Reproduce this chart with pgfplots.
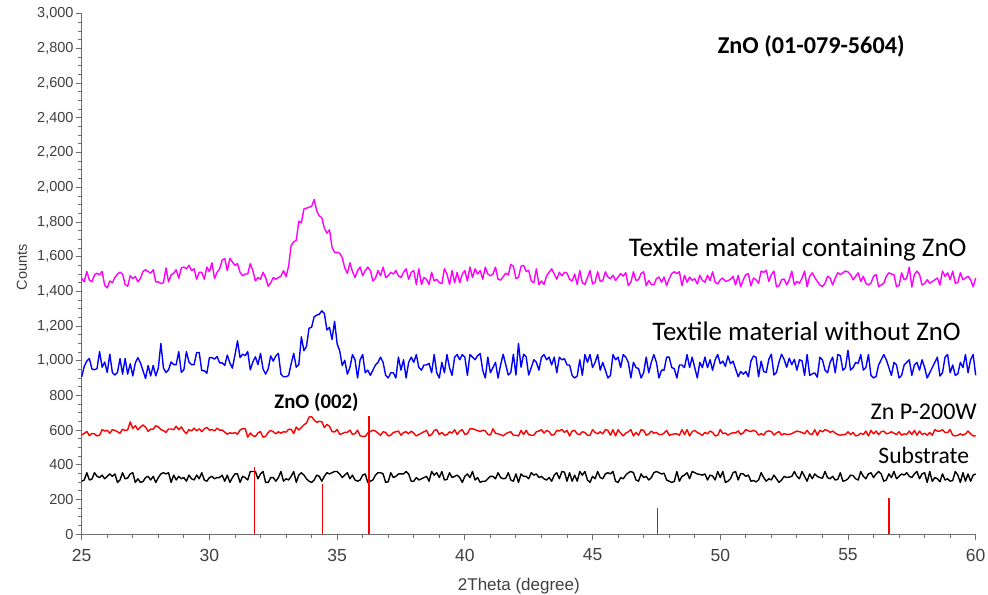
\documentclass[border=0pt]{standalone}
\usepackage{pgfplots}
\usepackage{pgfplotstable}
\pgfplotsset{compat=1.18}
\usepackage{fontspec}
\setmainfont{Liberation Sans}
\newfontfamily\carl{Carlito}
\definecolor{axisgray}{RGB}{110,110,110}
\definecolor{labgray}{RGB}{64,64,64}
\definecolor{magen}{RGB}{255,0,255}
\definecolor{blu}{RGB}{0,0,255}
\definecolor{rd}{RGB}{255,0,0}

\pgfplotstableread{
x s r b m
25.0 306 573 908 1475
25.1 313 581 968 1455
25.2 355 593 998 1515
25.3 313 569 1013 1465
25.4 318 581 953 1455
25.5 355 579 948 1495
25.6 334 567 955 1505
25.7 327 571 1053 1495
25.8 341 603 963 1515
25.9 320 595 993 1435
26.0 334 599 933 1420
26.1 348 583 1038 1460
26.2 334 603 933 1450
26.3 348 599 918 1480
26.4 299 591 933 1500
26.5 313 582 1013 1510
26.6 355 606 923 1500
26.7 320 598 1013 1440
26.8 324 602 923 1430
26.9 348 648 983 1490
27.0 355 610 913 1475
27.1 299 626 988 1485
27.2 320 602 1018 1455
27.3 299 618 988 1475
27.4 304 630 943 1515
27.5 327 618 898 1525
27.6 334 594 973 1515
27.7 313 606 913 1505
27.8 334 606 973 1525
27.9 299 626 913 1455
28.0 327 619 958 1455
28.1 348 603 1100 1445
28.2 355 598 958 1450
28.3 348 587 933 1535
28.4 355 607 948 1455
28.5 299 607 993 1495
28.6 341 603 978 1505
28.7 313 623 978 1525
28.8 334 603 1053 1475
28.9 320 619 933 1535
29.0 327 596 948 1540
29.1 306 580 1053 1530
29.2 341 604 993 1550
29.3 320 596 978 1520
29.4 313 612 978 1530
29.5 341 596 1048 1470
29.6 320 608 1048 1510
29.7 355 592 943 1510
29.8 313 608 943 1470
29.9 306 616 928 1540
30.0 327 600 1018 1515
30.1 334 604 1018 1565
30.2 320 596 1010 1475
30.3 327 612 1025 1510
30.4 327 600 988 1530
30.5 341 601 988 1580
30.6 306 589 973 1590
30.7 341 577 1033 1520
30.8 299 585 988 1590
30.9 327 581 958 1570
31.0 348 587 1033 1550
31.1 348 577 1115 1560
31.2 299 601 1018 1510
31.3 334 609 1038 1490
31.4 327 609 1030 1500
31.5 313 560 1053 1500
31.6 362 584 948 1560
31.7 362 568 993 1520
31.8 362 564 1023 1460
31.9 320 584 978 1480
32.0 348 592 1043 1470
32.1 362 560 953 1510
32.2 299 564 923 1480
32.3 299 587 953 1430
32.4 327 599 1028 1450
32.5 327 591 998 1480
32.6 306 579 1028 1470
32.7 327 591 1043 1480
32.8 362 583 923 1488
32.9 306 591 908 1520
33.0 320 589 908 1485
33.1 313 605 915 1545
33.2 334 605 983 1665
33.3 362 581 1043 1685
33.4 299 618 963 1695
33.5 341 601 978 1805
33.6 355 616 1138 1795
33.7 341 631 1058 1875
33.8 320 641 1083 1880
33.9 306 676 1188 1885
34.0 299 678 1193 1890
34.1 313 659 1253 1930
34.2 341 645 1263 1865
34.3 334 651 1268 1835
34.4 306 649 1288 1825
34.5 334 615 1273 1765
34.6 355 633 1178 1735
34.7 348 623 1193 1755
34.8 355 592 1123 1655
34.9 362 590 1228 1625
35.0 362 604 1098 1625
35.1 348 576 1058 1620
35.2 327 580 973 1595
35.3 341 588 1003 1535
35.4 355 588 923 1505
35.5 320 600 961 1565
35.6 341 576 1036 1515
35.7 313 580 1006 1480
35.8 306 600 901 1520
35.9 313 568 1006 1540
36.0 341 564 1036 1490
36.1 348 564 931 1520
36.2 299 584 946 1540
36.3 306 592 916 1520
36.4 313 600 946 1460
36.5 341 595 976 1475
36.6 355 583 991 1520
36.7 355 571 1021 1490
36.8 348 591 991 1540
36.9 299 587 916 1480
37.0 303 567 901 1490
37.1 355 571 931 1510
37.2 327 587 931 1500
37.3 334 591 901 1520
37.4 348 595 1021 1490
37.5 348 571 946 1480
37.6 348 587 1006 1510
37.7 362 591 901 1530
37.8 348 579 991 1470
37.9 306 595 1021 1510
38.0 306 583 991 1520
38.1 327 567 1036 1440
38.2 313 575 961 1530
38.3 320 583 946 1440
38.4 327 591 976 1480
38.5 334 599 976 1470
38.6 306 567 985 1440
38.7 362 575 931 1510
38.8 341 599 1036 1460
38.9 355 603 931 1470
39.0 327 575 901 1450
39.1 362 587 991 1445
39.2 313 571 931 1530
39.3 316 574 1036 1500
39.4 355 591 961 1440
39.5 327 583 916 1520
39.6 334 603 1021 1450
39.7 341 575 1036 1510
39.8 327 595 1006 1450
39.9 299 603 1036 1500
40.0 334 576 1021 1520
40.1 348 580 916 1460
40.2 327 608 1036 1540
40.3 362 608 1021 1480
40.4 313 603 1006 1530
40.5 327 598 1030 1500
40.6 299 592 1042 1520
40.7 306 600 946 1470
40.8 306 596 901 1540
40.9 320 576 1021 1500
41.0 334 572 931 1490
41.1 334 608 961 1500
41.2 320 583 991 1540
41.3 355 579 901 1470
41.4 327 575 976 1465
41.5 320 567 1038 1485
41.6 323 579 978 1505
41.7 355 587 918 1495
41.8 313 591 933 1555
41.9 306 571 1038 1545
42.0 348 571 918 1475
42.1 299 567 1100 1480
42.2 348 599 963 1545
42.3 334 575 1038 1550
42.4 334 599 1023 1515
42.5 320 575 918 1520
42.6 355 571 961 1460
42.7 341 571 1006 1450
42.8 348 591 991 1530
42.9 327 595 946 1440
43.0 334 603 1021 1460
43.1 320 583 1036 1440
43.2 313 599 1006 1490
43.3 327 591 1021 1510
43.4 306 571 976 1530
43.5 341 575 1021 1500
43.6 355 599 931 1470
43.7 320 595 1021 1510
43.8 362 605 1006 1490
43.9 358 587 1012 1510
44.0 306 599 976 1505
44.1 355 567 976 1470
44.2 306 595 916 1460
44.3 341 599 901 1500
44.4 306 579 912 1440
44.5 362 575 1006 1520
44.6 341 591 916 1450
44.7 362 587 1036 1440
44.8 313 571 991 1480
44.9 299 571 1036 1520
45.0 334 603 961 1443
45.1 320 587 991 1453
45.2 362 579 1036 1513
45.3 327 591 946 1458
45.4 320 579 991 1462
45.5 348 603 946 1513
45.6 355 599 901 1483
45.7 348 571 916 1473
45.8 362 603 1036 1493
45.9 306 567 1006 1463
46.0 299 603 1021 1483
46.1 327 583 961 1503
46.2 320 567 1036 1488
46.3 341 583 1021 1508
46.4 355 591 991 1433
46.5 362 603 901 1453
46.6 355 567 991 1513
46.7 313 587 961 1463
46.8 306 571 955 1468
46.9 348 603 901 1503
47.0 327 599 931 1513
47.1 334 571 1021 1433
47.2 313 579 931 1463
47.3 327 595 991 1440
47.4 355 583 1036 1438
47.5 362 587 991 1473
47.6 355 575 901 1483
47.7 348 575 946 1453
47.8 352 583 946 1483
47.9 313 599 1021 1433
48.0 306 571 1021 1473
48.1 299 575 961 1503
48.2 305 579 955 1513
48.3 362 579 901 1503
48.4 306 571 976 1513
48.5 334 603 976 1433
48.6 341 575 961 1493
48.7 355 603 1036 1453
48.8 320 567 961 1483
48.9 362 591 1021 1463
49.0 355 599 961 1473
49.1 348 587 901 1443
49.2 345 579 991 1493
49.3 341 571 961 1463
49.4 348 587 1021 1453
49.5 313 579 961 1493
49.6 341 595 1006 1463
49.7 336 587 946 1513
49.8 313 567 1006 1453
49.9 362 571 1036 1443
50.0 327 604 983 1467
50.1 362 580 998 1477
50.2 299 584 968 1457
50.3 306 572 1028 1462
50.4 320 580 983 1470
50.5 355 586 998 1487
50.6 362 584 953 1437
50.7 313 596 908 1492
50.8 350 576 938 1427
50.9 348 584 923 1467
51.0 334 604 938 1497
51.1 341 596 908 1502
51.2 306 592 998 1432
51.3 310 600 1028 1477
51.4 302 592 1020 1467
51.5 313 572 908 1447
51.6 355 580 998 1517
51.7 327 572 938 1510
51.8 306 592 933 1522
51.9 320 596 1008 1457
52.0 313 592 1038 1497
52.1 341 572 918 1517
52.2 320 584 933 1427
52.3 299 592 993 1432
52.4 313 572 1038 1467
52.5 334 580 1008 1472
52.6 327 576 963 1437
52.7 330 576 1015 1467
52.8 334 580 978 1517
52.9 362 588 1008 1437
53.0 334 595 946 1457
53.1 320 591 1006 1447
53.2 362 587 1000 1477
53.3 334 579 916 1517
53.4 306 599 1036 1427
53.5 348 579 916 1487
53.6 320 575 925 1507
53.7 348 603 930 1480
53.8 334 571 905 1457
53.9 327 599 1021 1437
54.0 323 591 1006 1427
54.1 362 603 946 1447
54.2 327 598 931 1487
54.3 320 587 991 1477
54.4 334 595 1021 1437
54.5 313 583 931 1477
54.6 317 575 1036 1507
54.7 355 571 1030 1497
54.8 306 574 946 1507
54.9 310 575 961 1517
55.0 320 591 1060 1512
55.1 341 575 946 1497
55.2 338 587 961 1467
55.3 320 567 991 1487
55.4 313 571 985 1507
55.5 362 583 1036 1457
55.6 334 575 946 1487
55.7 320 595 961 1447
55.8 348 567 1036 1437
55.9 355 599 916 1447
56.0 327 579 901 1487
56.1 348 595 910 1497
56.2 362 575 976 1427
56.3 348 591 1006 1437
56.4 306 595 1036 1447
56.5 313 579 1006 1487
56.6 348 583 961 1507
56.7 327 591 916 1500
56.8 362 583 991 1497
56.9 320 575 976 1427
57.0 334 591 901 1435
57.1 348 571 916 1507
57.2 341 579 976 1467
57.3 355 575 991 1477
57.4 334 595 1006 1540
57.5 327 575 916 1425
57.6 348 599 976 1497
57.7 362 571 991 1517
57.8 320 595 946 1497
57.9 348 575 1006 1437
58.0 355 583 961 1445
58.1 299 571 901 1467
58.2 362 587 931 1447
58.3 305 571 961 1457
58.4 327 603 991 1467
58.5 320 595 1021 1477
58.6 303 595 912 1437
58.7 348 603 931 1517
58.8 313 587 1021 1487
58.9 320 587 1036 1507
59.0 306 603 931 1467
59.1 310 571 976 1517
59.2 362 567 916 1447
59.3 341 571 925 1452
59.4 299 579 991 1507
59.5 355 571 961 1467
59.6 306 579 1036 1477
59.7 348 595 931 1487
59.8 306 579 1006 1467
59.9 341 567 1036 1427
60.0 348 567 916 1477
}\xrd

\begin{document}
\begin{tikzpicture}
\begin{axis}[
  name=ax,
  scale only axis,
  width=894pt, height=520.5pt,
  xmin=25, xmax=60, ymin=0, ymax=3000,
  clip=false,
  axis lines=left,
  axis line style={-, draw=axisgray, line width=1pt},
  tick align=outside,
  tick style={draw=axisgray, line width=0.9pt},
  major tick length=6pt, minor tick length=3.5pt,
  xtick={25,30,...,60}, minor x tick num=4,
  ytick={0,200,...,3000}, minor y tick num=3,
  xticklabels={},
  /pgf/number format/assume math mode=true,
  /pgf/number format/1000 sep={,},
  yticklabel style={font=\fontsize{14.5}{17}\selectfont, text=labgray, inner sep=0pt, xshift=-2pt},
]
\addplot[black, line width=1.4pt, line join=round] table[x=x, y=s] {\xrd};
\addplot[rd, line width=1.4pt, line join=round] table[x=x, y=r] {\xrd};
\addplot[blu, line width=1.4pt, line join=round] table[x=x, y=b] {\xrd};
\addplot[magen, line width=1.4pt, line join=round] table[x=x, y=m] {\xrd};
\addplot[rd, ycomb, line width=1.6pt, mark=none] coordinates {
  (31.77,388) (34.42,290) (36.25,683) (47.54,150) (56.60,207)};

\foreach \t in {25,30,35,40,45,50,55,60}{
  \edef\tmp{\noexpand\node[anchor=center, font=\noexpand\fontsize{17.5}{20}\noexpand\selectfont, text=labgray, inner sep=0pt] at ([yshift=-20.7pt]axis cs:\t,0) {\t};}
  \tmp
}

\node[anchor=base, font=\carl\bfseries\fontsize{24.2}{29}\selectfont, inner sep=0pt] at (axis cs:53.56,2772) {ZnO (01-079-5604)};
\node[anchor=base east, font=\carl\fontsize{26.9}{31}\selectfont, inner sep=0pt] at (axis cs:59.65,1600) {Textile material containing ZnO};
\node[anchor=base east, font=\carl\fontsize{26.8}{31}\selectfont, inner sep=0pt] at (axis cs:59.42,1116) {Textile material without ZnO};
\node[anchor=base east, font=\carl\fontsize{24}{28}\selectfont, inner sep=0pt] at (axis cs:60.05,659) {Zn P-200W};
\node[anchor=base east, font=\carl\fontsize{23.6}{28}\selectfont, inner sep=0pt] at (axis cs:59.75,409) {Substrate};
\node[anchor=base, font=\carl\bfseries\fontsize{20.7}{25}\selectfont, inner sep=0pt] at (axis cs:34.19,726) {ZnO (002)};

\node[rotate=90, anchor=center, font=\fontsize{14.5}{17}\selectfont, text=labgray, inner sep=0pt] at ([xshift=-59.7pt]rel axis cs:0,0.5126) {Counts};
\node[anchor=center, font=\fontsize{17}{20}\selectfont, text=labgray, inner sep=0pt] at ([yshift=-52pt]rel axis cs:0.489,0) {2Theta (degree)};
\end{axis}
\path ([xshift=-81.7pt,yshift=-59.7pt]ax.south west) rectangle ([xshift=12.3pt,yshift=13.8pt]ax.north east);
\end{tikzpicture}
\end{document}
